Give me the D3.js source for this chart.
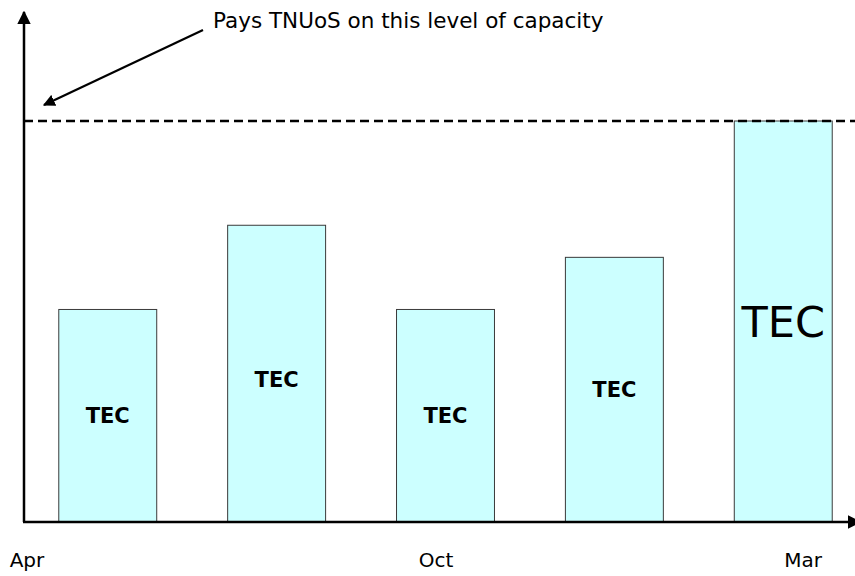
<!DOCTYPE html>
<html>
<head>
<meta charset="utf-8">
<script src="https://cdn.jsdelivr.net/npm/d3@7"></script>
<style>
  html, body { margin: 0; padding: 0; background: #fff; }
  svg { display: block; font-family: "DejaVu Sans", Verdana, sans-serif; }
</style>
</head>
<body>
<svg id="chart" width="855" height="576"></svg>
<script>
const bars = ['p1', 'p2', 'p3', 'p4', 'p5'];
const capacity = [53, 74, 53, 66, 100];
const barLabels = ['TEC', 'TEC', 'TEC', 'TEC', 'TEC'];
const maxLevel = 100;
const monthTicks = ['Apr', 'Oct', 'Mar'];
const monthIndex = [0, 5.8, 11];
const noteText = 'Pays TNUoS on this level of capacity';

const width = 855, height = 576;
const margin = { top: 121, bottom: 54, left: 24, right: 0 };
const svg = d3.select('#chart');

const x = d3.scaleBand()
    .domain(bars)
    .range([margin.left + 1, 866])
    .paddingInner(0.42)
    .paddingOuter(0.2);

const y = d3.scaleLinear()
    .domain([0, maxLevel])
    .range([height - margin.bottom, margin.top]);

const xm = d3.scaleLinear().domain([0, 11]).range([27, 803]);

const defs = svg.append('defs');
defs.append('marker')
    .attr('id', 'head')
    .attr('viewBox', '0 0 10 10')
    .attr('refX', 9).attr('refY', 5)
    .attr('markerWidth', 5.5).attr('markerHeight', 5.5)
    .attr('markerUnits', 'strokeWidth')
    .attr('orient', 'auto')
    .append('path').attr('d', 'M0,0L10,5L0,10Z').attr('fill', '#000');

// bars
svg.append('g').selectAll('rect')
    .data(capacity)
    .join('rect')
    .attr('x', (d, i) => x(bars[i]))
    .attr('y', d => y(d))
    .attr('width', x.bandwidth())
    .attr('height', d => y(0) - y(d))
    .attr('fill', '#ccffff')
    .attr('stroke', '#3a3a3a')
    .attr('stroke-width', 1);

// bar labels
const last = bars.length - 1;
svg.append('g').selectAll('text')
    .data(capacity)
    .join('text')
    .attr('x', (d, i) => x(bars[i]) + x.bandwidth() / 2)
    .attr('y', d => (y(d) + y(0)) / 2)
    .attr('dy', (d, i) => i === 1 ? '0.65em' : '0.36em')
    .attr('text-anchor', 'middle')
    .attr('font-size', (d, i) => i === last ? 43 : 21)
    .attr('font-weight', (d, i) => i === last ? 'normal' : 'bold')
    .attr('fill', '#000')
    .text((d, i) => barLabels[i]);

// capacity level line
svg.append('line')
    .attr('x1', margin.left).attr('x2', width)
    .attr('y1', y(maxLevel)).attr('y2', y(maxLevel))
    .attr('stroke', '#000')
    .attr('stroke-width', 2.5)
    .attr('stroke-dasharray', '9,5');

// axes
svg.append('line')
    .attr('x1', margin.left).attr('y1', y(0))
    .attr('x2', margin.left).attr('y2', 12)
    .attr('stroke', '#000').attr('stroke-width', 2.5)
    .attr('marker-end', 'url(#head)');
svg.append('line')
    .attr('x1', margin.left - 1).attr('y1', y(0))
    .attr('x2', 860).attr('y2', y(0))
    .attr('stroke', '#000').attr('stroke-width', 2.5)
    .attr('marker-end', 'url(#head)');

// month labels
svg.append('g').selectAll('text')
    .data(monthTicks)
    .join('text')
    .attr('x', (d, i) => xm(monthIndex[i]))
    .attr('y', 567)
    .attr('text-anchor', 'middle')
    .attr('font-size', 20)
    .attr('fill', '#000')
    .text(d => d);

// annotation
svg.append('text')
    .attr('x', 213).attr('y', 28)
    .attr('font-size', 21.5)
    .attr('fill', '#000')
    .text(noteText);
svg.append('line')
    .attr('x1', 203).attr('y1', 30)
    .attr('x2', 44).attr('y2', 105)
    .attr('stroke', '#000').attr('stroke-width', 2.2)
    .attr('marker-end', 'url(#head)');
</script>
</body>
</html>
